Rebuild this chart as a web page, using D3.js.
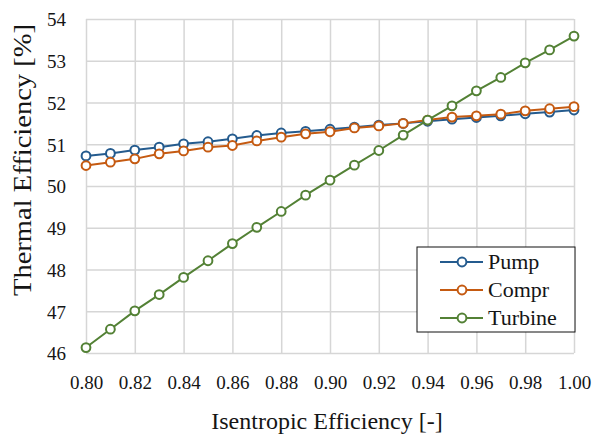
<!DOCTYPE html>
<html>

<head>
    <title>Thermal Efficiency vs Isentropic Efficiency</title>
    <script src="https://d3js.org/d3.v7.min.js"></script>
    <style>
        body { margin: 0; background: #fff; }
    </style>
</head>

<body>
    <svg id="chart"></svg>

    <script>
        // isentropic efficiency (x values)
        const effX = [0.80, 0.81, 0.82, 0.83, 0.84, 0.85, 0.86, 0.87, 0.88, 0.89, 0.90,
            0.91, 0.92, 0.93, 0.94, 0.95, 0.96, 0.97, 0.98, 0.99, 1.00];

        // thermal efficiency [%]
        const pump = [50.72, 50.78, 50.86, 50.93, 51.01, 51.06, 51.13, 51.21, 51.27, 51.31, 51.36,
            51.41, 51.46, 51.50, 51.55, 51.60, 51.64, 51.68, 51.73, 51.77, 51.82];
        const compr = [50.49, 50.57, 50.65, 50.77, 50.84, 50.93, 50.97, 51.08, 51.17, 51.25, 51.30,
            51.39, 51.44, 51.50, 51.58, 51.65, 51.68, 51.72, 51.80, 51.85, 51.90];
        const turbine = [46.13, 46.57, 47.01, 47.40, 47.81, 48.21, 48.62, 49.01, 49.39, 49.78, 50.14,
            50.50, 50.85, 51.22, 51.58, 51.92, 52.28, 52.60, 52.95, 53.26, 53.59];

        const seriesNames = ['Pump', 'Compr', 'Turbine'];
        const seriesColors = ['#245b8e', '#c55a11', '#538135'];
        const seriesValues = [pump, compr, turbine];

        const xTicks = [0.80, 0.82, 0.84, 0.86, 0.88, 0.90, 0.92, 0.94, 0.96, 0.98, 1.00];
        const yTicks = [46, 47, 48, 49, 50, 51, 52, 53, 54];

        const FONT = '"Liberation Serif", "Times New Roman", serif';
        const INK = '#151515';

        const width = 592;
        const height = 435;
        const margin = { top: 19, right: 18, bottom: 82, left: 86 };
        const innerW = width - margin.left - margin.right;
        const innerH = height - margin.top - margin.bottom;

        const svg = d3.select('#chart')
            .attr('width', width)
            .attr('height', height);

        const g = svg.append('g')
            .attr('transform', `translate(${margin.left},${margin.top})`);

        const x = d3.scaleLinear().domain([0.80, 1.00]).range([0, innerW]);
        const y = d3.scaleLinear().domain([46, 54]).range([innerH, 0]);

        // gridlines (horizontal) + y tick labels
        const yAxis = g.append('g')
            .call(d3.axisLeft(y).tickValues(yTicks).tickSize(-innerW).tickFormat(d3.format('d')));
        yAxis.attr('font-family', null).attr('font-size', null);
        yAxis.select('.domain').remove();
        yAxis.selectAll('line').attr('stroke', '#d6d6d6').attr('stroke-width', 1.5);
        yAxis.selectAll('text')
            .attr('x', -20)
            .attr('dy', '0.36em')
            .attr('fill', INK)
            .style('font-family', FONT)
            .style('font-size', '19px');

        // gridlines (vertical) + x tick labels
        const xAxis = g.append('g')
            .attr('transform', `translate(0,${innerH})`)
            .call(d3.axisBottom(x).tickValues(xTicks).tickSize(-innerH).tickFormat(d3.format('.2f')));
        xAxis.attr('font-family', null).attr('font-size', null);
        xAxis.select('.domain').remove();
        xAxis.selectAll('line').attr('stroke', '#d6d6d6').attr('stroke-width', 1.5);
        xAxis.selectAll('text')
            .attr('y', 36)
            .attr('dy', 0)
            .attr('fill', INK)
            .style('font-family', FONT)
            .style('font-size', '19px');

        // series lines + markers
        const line = d3.line()
            .x((d, i) => x(effX[i]))
            .y(d => y(d));

        seriesValues.forEach((vals, k) => {
            g.append('path')
                .datum(vals)
                .attr('fill', 'none')
                .attr('stroke', seriesColors[k])
                .attr('stroke-width', 2)
                .attr('d', line);

            g.selectAll('.pt' + k)
                .data(vals)
                .enter()
                .append('circle')
                .attr('class', 'pt' + k)
                .attr('cx', (d, i) => x(effX[i]))
                .attr('cy', d => y(d))
                .attr('r', 4.4)
                .attr('fill', '#fff')
                .attr('stroke', seriesColors[k])
                .attr('stroke-width', 2);
        });

        // axis titles
        svg.append('text')
            .attr('x', margin.left + innerW / 2 - 3)
            .attr('y', 429)
            .attr('text-anchor', 'middle')
            .attr('fill', INK)
            .style('font-family', FONT)
            .style('font-size', '24px')
            .text('Isentropic Efficiency [-]');

        svg.append('text')
            .attr('transform', 'translate(31,160) rotate(-90)')
            .attr('text-anchor', 'middle')
            .attr('textLength', 272)
            .attr('lengthAdjust', 'spacingAndGlyphs')
            .attr('fill', INK)
            .style('font-family', FONT)
            .style('font-size', '25px')
            .text('Thermal Efficiency [%]');

        // legend
        const legend = svg.append('g').attr('transform', 'translate(417,247)');
        legend.append('rect')
            .attr('width', 158)
            .attr('height', 85)
            .attr('fill', '#fff')
            .attr('stroke', '#111')
            .attr('stroke-width', 1);

        const item = legend.selectAll('.item')
            .data(seriesNames)
            .enter()
            .append('g')
            .attr('class', 'item')
            .attr('transform', (d, i) => `translate(0,${15 + i * 28})`);

        item.append('line')
            .attr('x1', 23).attr('x2', 66)
            .attr('stroke', (d, i) => seriesColors[i])
            .attr('stroke-width', 2);
        item.append('circle')
            .attr('cx', 45)
            .attr('r', 4.4)
            .attr('fill', '#fff')
            .attr('stroke', (d, i) => seriesColors[i])
            .attr('stroke-width', 2);
        item.append('text')
            .attr('x', 71)
            .attr('y', 7)
            .attr('fill', INK)
            .style('font-family', FONT)
            .style('font-size', '22px')
            .text(d => d);
    </script>
</body>

</html>
